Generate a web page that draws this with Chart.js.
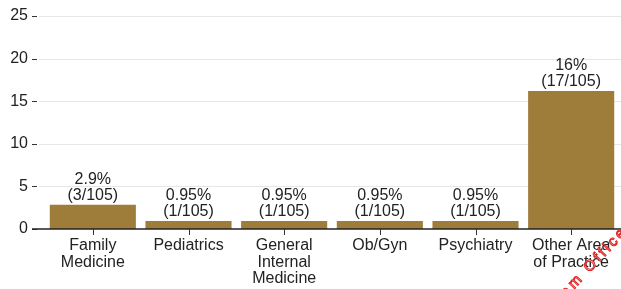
<!DOCTYPE html>
<html>
<head>
<meta charset="utf-8">
<script src="https://cdn.jsdelivr.net/npm/chart.js@4/dist/chart.umd.min.js"></script>
<style>
html,body{margin:0;padding:0;background:#fff;}
#wrap{position:relative;width:621px;height:289px;}
</style>
</head>
<body>
<div id="wrap"><canvas id="c"></canvas></div>
<script>
const categories = [["Family","Medicine"],["Pediatrics"],["General","Internal","Medicine"],["Ob/Gyn"],["Psychiatry"],["Other Area","of Practice"]];
const percentValues = [2.857, 0.952, 0.952, 0.952, 0.952, 16.19];
const percentLabels = ["2.9%","0.95%","0.95%","0.95%","0.95%","16%"];
const counts = [3, 1, 1, 1, 1, 17];
const total = 105;
const yTicks = [0, 5, 10, 15, 20, 25];
const watermarkText = "from Office";

const FONT = "'Liberation Sans', Arial, sans-serif";
const TEXT = '#222';
const BAR = 'rgb(158,125,58)';

const decor = {
  id: 'decor',
  beforeDatasetsDraw(chart) {
    const ctx = chart.ctx, y = chart.scales.y;
    ctx.save();
    yTicks.forEach(v => {
      const py = Math.round(y.getPixelForValue(v)) + 0.5;
      if (v !== 0) {
        ctx.strokeStyle = '#e6e6e6'; ctx.lineWidth = 1;
        ctx.beginPath(); ctx.moveTo(39, py); ctx.lineTo(chart.width, py); ctx.stroke();
      }
      ctx.strokeStyle = '#333'; ctx.lineWidth = 1;
      ctx.beginPath(); ctx.moveTo(32, py); ctx.lineTo(37, py); ctx.stroke();
    });
    ctx.restore();
  },
  afterDatasetsDraw(chart) {
    const ctx = chart.ctx, y = chart.scales.y, x = chart.scales.x;
    const py0 = y.getPixelForValue(0);
    ctx.save();
    ctx.strokeStyle = '#222'; ctx.lineWidth = 1.5;
    ctx.beginPath(); ctx.moveTo(32, py0); ctx.lineTo(chart.width, py0); ctx.stroke();
    ctx.lineWidth = 1; ctx.strokeStyle = '#333';
    categories.forEach((c, i) => {
      const px = Math.round(x.getPixelForValue(i)) + 0.5;
      ctx.beginPath(); ctx.moveTo(px, py0); ctx.lineTo(px, py0 + 6); ctx.stroke();
    });
    ctx.fillStyle = TEXT;
    ctx.font = '16px ' + FONT;
    ctx.textAlign = 'center';
    ctx.textBaseline = 'alphabetic';
    const meta = chart.getDatasetMeta(0);
    meta.data.forEach((bar, i) => {
      const base = bar.y - 5;
      ctx.fillText('(' + counts[i] + '/' + total + ')', bar.x, base);
      ctx.fillText(percentLabels[i], bar.x, base - 16);
    });
    ctx.restore();
  },
  afterDraw(chart) {
    const ctx = chart.ctx;
    ctx.save();
    ctx.translate(556, 309);
    ctx.rotate(-47 * Math.PI / 180);
    ctx.font = '15px ' + FONT;
    try { ctx.letterSpacing = '3px'; } catch (e) {}
    ctx.textBaseline = 'alphabetic';
    ctx.textAlign = 'left';
    ctx.fillStyle = '#fff';
    ctx.strokeStyle = '#e02020';
    ctx.lineWidth = 1;
    ctx.fillText(watermarkText, 0, 0);
    ctx.strokeText(watermarkText, 0, 0);
    ctx.restore();
  }
};

new Chart(document.getElementById('c'), {
  type: 'bar',
  data: {
    labels: categories,
    datasets: [{
      data: percentValues,
      backgroundColor: BAR,
      borderWidth: 0,
      barPercentage: 0.9,
      categoryPercentage: 1.0
    }]
  },
  options: {
    responsive: true,
    maintainAspectRatio: false,
    animation: false,
    devicePixelRatio: 1,
    layout: { padding: { left: 0, top: 16, right: 2, bottom: 0 } },
    plugins: { legend: { display: false }, tooltip: { enabled: false } },
    scales: {
      x: {
        grid: { display: false, drawTicks: false },
        border: { display: false },
        ticks: { color: TEXT, font: { family: FONT, size: 16, lineHeight: 1.05 }, padding: 8, maxRotation: 0, autoSkip: false },
        afterFit(s) { s.height = 60; }
      },
      y: {
        min: 0, max: 25,
        afterBuildTicks(s) { s.ticks = yTicks.map(v => ({ value: v })); },
        grid: { display: false, drawTicks: false },
        border: { display: false },
        ticks: { color: TEXT, font: { family: FONT, size: 16 }, padding: 17 },
        afterFit(s) { s.width = 45; s.paddingTop = 8; s.paddingBottom = 8; }
      }
    }
  },
  plugins: [decor]
});
</script>
</body>
</html>
